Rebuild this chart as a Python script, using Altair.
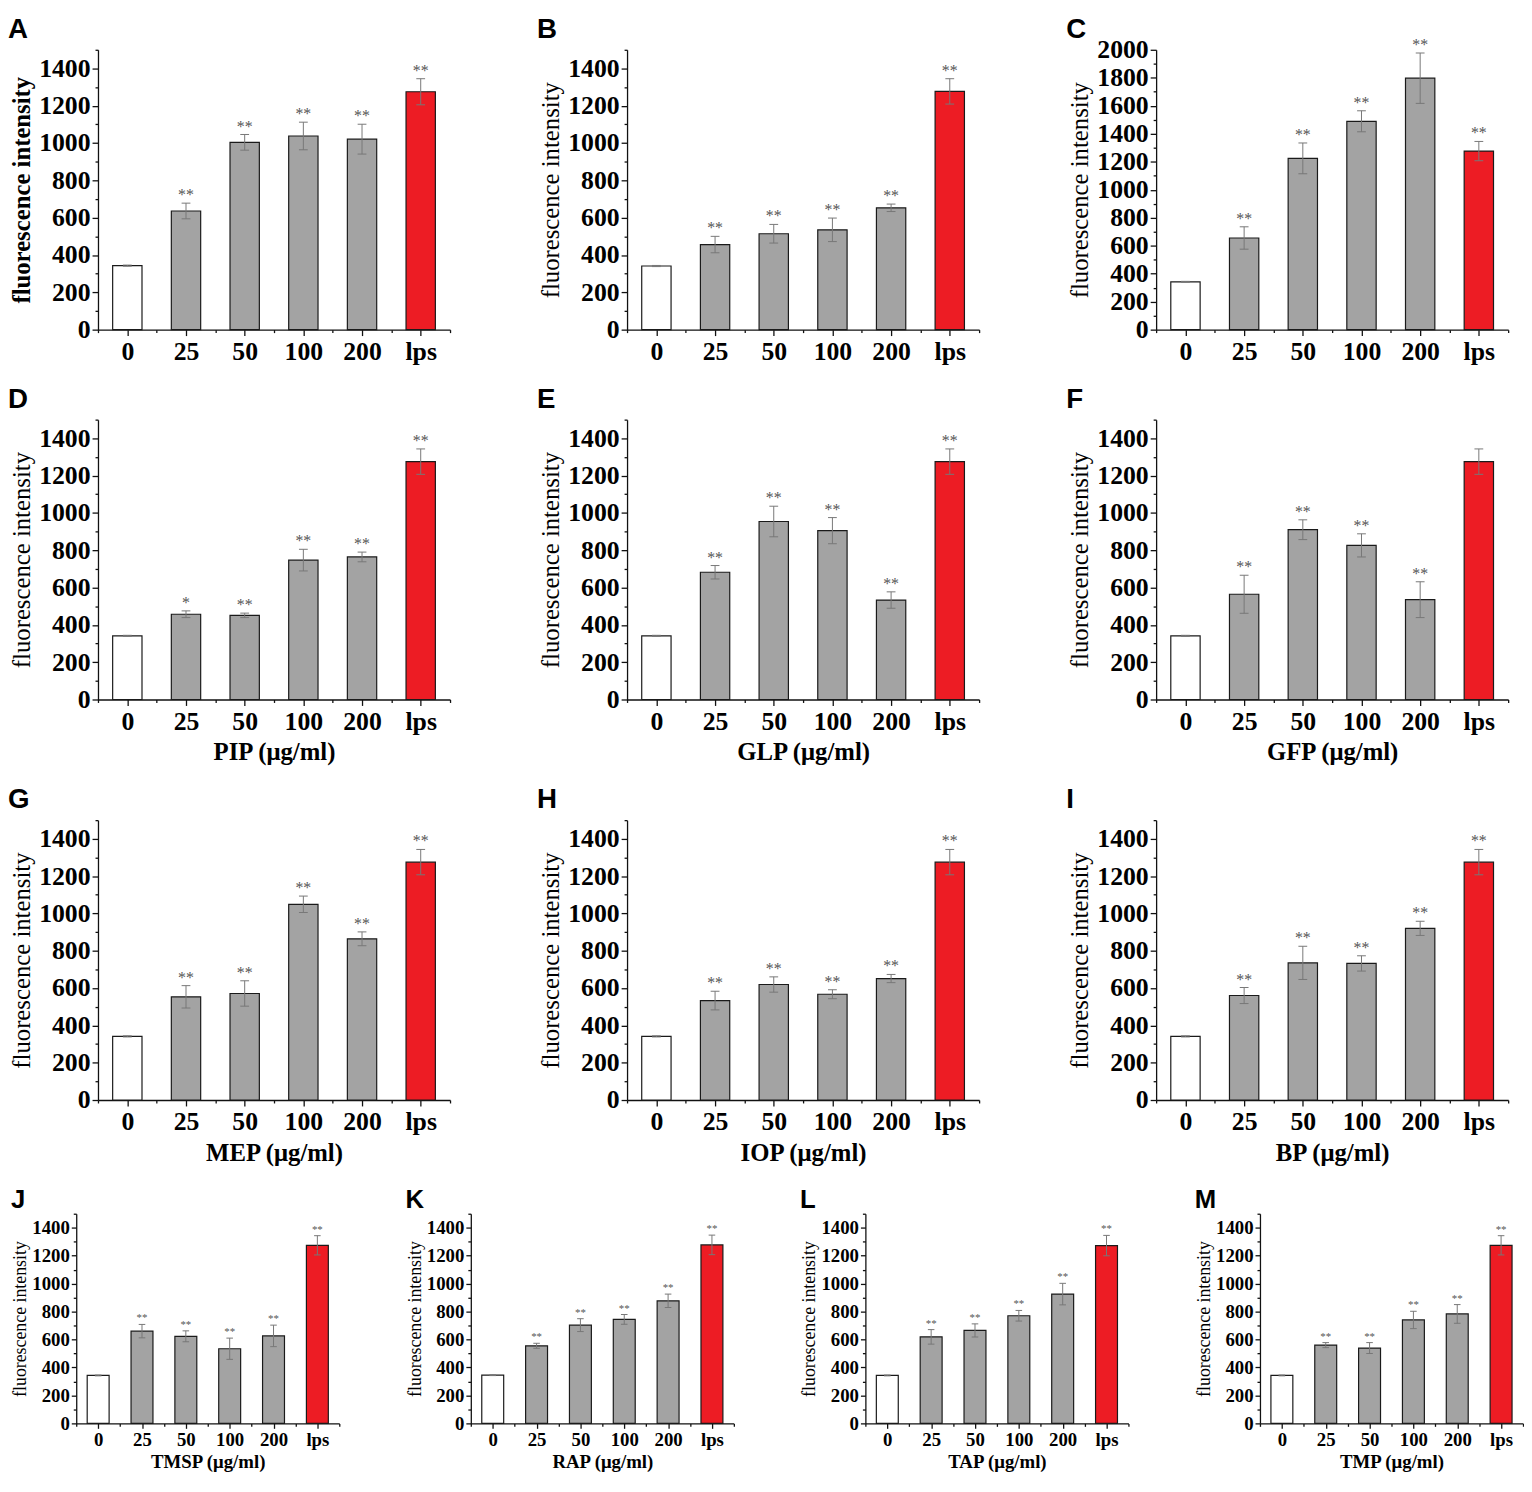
import json
import altair as alt
import pandas as pd

# ---------------- data ----------------
CATEGORIES = ["0", "25", "50", "100", "200", "lps"]
KINDS = ["control", "treated", "treated", "treated", "treated", "lps"]

PANEL_LETTERS = ["A", "B", "C", "D", "E", "F", "G", "H", "I", "J", "K", "L", "M"]
X_TITLES = ["", "", "", "PIP (μg/ml)", "GLP (μg/ml)", "GFP (μg/ml)",
            "MEP (μg/ml)", "IOP (μg/ml)", "BP (μg/ml)",
            "TMSP (μg/ml)", "RAP (μg/ml)", "TAP (μg/ml)", "TMP (μg/ml)"]
Y_MAX = [1500, 1500, 2000, 1500, 1500, 1500, 1500, 1500, 1500, 1500, 1500, 1500, 1500]

A_mean = [343, 636, 1004, 1038, 1021, 1275]
A_err = [3, 42, 42, 74, 80, 70]
A_star = ["", "**", "**", "**", "**", "**"]

B_mean = [341, 456, 514, 535, 653, 1277]
B_err = [3, 44, 50, 63, 20, 68]
B_star = ["", "**", "**", "**", "**", "**"]

C_mean = [342, 655, 1224, 1489, 1797, 1276]
C_err = [3, 80, 110, 75, 180, 69]
C_star = ["", "**", "**", "**", "**", "**"]

D_mean = [341, 457, 451, 747, 764, 1275]
D_err = [3, 18, 12, 58, 26, 68]
D_star = ["", "*", "**", "**", "**", "**"]

E_mean = [341, 682, 954, 905, 533, 1275]
E_err = [3, 36, 82, 70, 44, 68]
E_star = ["", "**", "**", "**", "**", "**"]

F_mean = [341, 564, 910, 826, 535, 1275]
F_err = [3, 102, 53, 62, 96, 68]
F_star = ["", "**", "**", "**", "**", ""]

G_mean = [341, 553, 571, 1049, 864, 1275]
G_err = [3, 60, 68, 44, 37, 68]
G_star = ["", "**", "**", "**", "**", "**"]

H_mean = [341, 533, 619, 567, 651, 1275]
H_err = [3, 50, 41, 24, 22, 68]
H_star = ["", "**", "**", "**", "**", "**"]

I_mean = [341, 560, 735, 732, 920, 1275]
I_err = [3, 43, 89, 41, 38, 68]
I_star = ["", "**", "**", "**", "**", "**"]

J_mean = [343, 660, 623, 534, 626, 1274]
J_err = [3, 48, 39, 76, 77, 69]
J_star = ["", "**", "**", "**", "**", "**"]

K_mean = [345, 555, 703, 744, 877, 1277]
K_err = [3, 18, 46, 35, 48, 70]
K_star = ["", "**", "**", "**", "**", "**"]

L_mean = [343, 619, 665, 770, 925, 1272]
L_err = [3, 52, 47, 38, 77, 73]
L_star = ["", "**", "**", "**", "**", "**"]

M_mean = [343, 560, 539, 740, 783, 1274]
M_err = [3, 18, 39, 62, 67, 69]
M_star = ["", "**", "**", "**", "**", "**"]

MEANS = [A_mean, B_mean, C_mean, D_mean, E_mean, F_mean, G_mean, H_mean, I_mean,
         J_mean, K_mean, L_mean, M_mean]
ERRS = [A_err, B_err, C_err, D_err, E_err, F_err, G_err, H_err, I_err,
        J_err, K_err, L_err, M_err]
STARS = [A_star, B_star, C_star, D_star, E_star, F_star, G_star, H_star, I_star,
         J_star, K_star, L_star, M_star]

# ---------------- style ----------------
SERIF = "Liberation Serif"
SANS = "Liberation Sans"
FILL_RANGE = ["#ffffff", "#a3a3a3", "#ed1c24"]
ERR_COLOR = "#777777"
STAR_COLOR = "#555555"

# strip = blank pixels kept at the left of the group (the visible y axis is moved in by it)
BIG = dict(w=356, h=283, strip=22, label=26, title=25, xtitle=25, star=16, maj=6, minr=3,
           letter=28, lx=-69, ly=-34, tpad=4, xtpad=6, lpad=3)
SMALL = dict(w=266, h=212, strip=0, label=19, title=18, xtitle=19, star=11, maj=5, minr=3,
             letter=26, lx=-66, ly=-27, tpad=2, xtpad=4, lpad=2)


def make_panel(i):
    s = BIG if i < 9 else SMALL
    n = len(CATEGORIES)
    ymax = Y_MAX[i]
    df = pd.DataFrame({
        "idx": list(range(n)),
        "cat": CATEGORIES,
        "kind": KINDS,
        "mean": MEANS[i],
        "err": ERRS[i],
        "star": STARS[i],
    })
    base = alt.Chart(df).transform_calculate(
        lo="datum.idx - 0.25", hi="datum.idx + 0.25",
        e_lo="datum.mean - datum.err", e_hi="datum.mean + datum.err",
        cl="datum.idx - 0.075", cr="datum.idx + 0.075",
    )
    total_w = s["w"] + s["strip"]
    if s["strip"]:
        xscale = alt.Scale(domain=[-0.5, n - 0.5], nice=False, zero=False,
                           range=[s["strip"], total_w])
    else:
        xscale = alt.Scale(domain=[-0.5, n - 0.5], nice=False, zero=False)
    yscale = alt.Scale(domain=[0, ymax], nice=False, zero=True)

    xaxis = alt.Axis(
        values=[k * 0.5 - 0.5 for k in range(2 * n + 1)],
        labelExpr="datum.value % 1 == 0 ? " + json.dumps(CATEGORIES) + "[datum.value] : ''",
        tickSize={"condition": {"test": "datum.value % 1 == 0", "value": s["maj"]}, "value": s["minr"]},
        labelFont=SERIF, labelFontSize=s["label"], labelFontWeight="bold",
        labelPadding=s["lpad"], labelOverlap=False, labelFlush=False, grid=False,
        title=X_TITLES[i] if X_TITLES[i] else None,
        titleFont=SERIF, titleFontSize=s["xtitle"], titleFontWeight="bold",
        titlePadding=s["xtpad"],
    )
    ykw = dict(
        values=list(range(0, ymax + 1, 100)),
        labelExpr="datum.value % 200 == 0 ? format(datum.value, 'd') : ''",
        tickSize={"condition": {"test": "datum.value % 200 == 0", "value": s["maj"]}, "value": s["minr"]},
        labelFont=SERIF, labelFontSize=s["label"], labelFontWeight="bold",
        labelPadding=2, labelOverlap=False, labelFlush=False, grid=False,
        title="fluorescence intensity", titleFont=SERIF, titleFontSize=s["title"],
        titleFontWeight="bold" if i == 0 else "normal", titlePadding=s["tpad"],
    )
    if s["strip"]:
        ykw["offset"] = -s["strip"]
    yaxis = alt.Axis(**ykw)

    bars = base.mark_bar(stroke="#1a1a1a", strokeWidth=1.2).encode(
        x=alt.X("lo:Q", scale=xscale, axis=xaxis),
        x2="hi:Q",
        y=alt.Y("mean:Q", scale=yscale, axis=yaxis),
        y2=alt.datum(0),
        fill=alt.Fill("kind:N", scale=alt.Scale(domain=["control", "treated", "lps"], range=FILL_RANGE),
                      legend=None),
    )
    err_line = base.mark_rule(color=ERR_COLOR, strokeWidth=1).encode(
        x=alt.X("idx:Q", scale=xscale, axis=xaxis),
        y=alt.Y("e_lo:Q", scale=yscale, axis=yaxis),
        y2="e_hi:Q",
    )
    cap_hi = base.mark_rule(color=ERR_COLOR, strokeWidth=1).encode(
        x=alt.X("cl:Q", scale=xscale, axis=xaxis), x2="cr:Q",
        y=alt.Y("e_hi:Q", scale=yscale, axis=yaxis),
    )
    cap_lo = base.mark_rule(color=ERR_COLOR, strokeWidth=1).encode(
        x=alt.X("cl:Q", scale=xscale, axis=xaxis), x2="cr:Q",
        y=alt.Y("e_lo:Q", scale=yscale, axis=yaxis),
    )
    stars = base.mark_text(baseline="alphabetic", dy=-3, font=SERIF, fontSize=s["star"],
                           fill=STAR_COLOR).encode(
        x=alt.X("idx:Q", scale=xscale, axis=xaxis),
        y=alt.Y("e_hi:Q", scale=yscale, axis=yaxis),
        text="star:N",
    )
    letter = alt.Chart(pd.DataFrame({"letter": [PANEL_LETTERS[i]]})).mark_text(
        align="left", baseline="top", font=SANS, fontWeight="bold",
        fontSize=s["letter"], color="black",
    ).encode(x=alt.value(s["lx"]), y=alt.value(s["ly"]), text="letter:N")

    return alt.layer(bars, err_line, cap_hi, cap_lo, stars, letter).properties(
        width=total_w, height=s["h"])


panels = [make_panel(i) for i in range(13)]
row1 = alt.hconcat(*panels[0:3], spacing=87)
row2 = alt.hconcat(*panels[3:6], spacing=87)
row3 = alt.hconcat(*panels[6:9], spacing=87)
row4 = alt.hconcat(*panels[9:13], spacing=66)

chart = alt.vconcat(row1, row2, row3, row4, spacing=22).properties(
    padding=0, background="white"
).configure_view(stroke=None).configure_axis(
    domainColor="#111111", domainWidth=1.3, tickColor="#111111", tickWidth=1.3,
    labelColor="black", titleColor="black",
)

chart.save("out.html", embed_options={"renderer": "svg", "actions": False})
